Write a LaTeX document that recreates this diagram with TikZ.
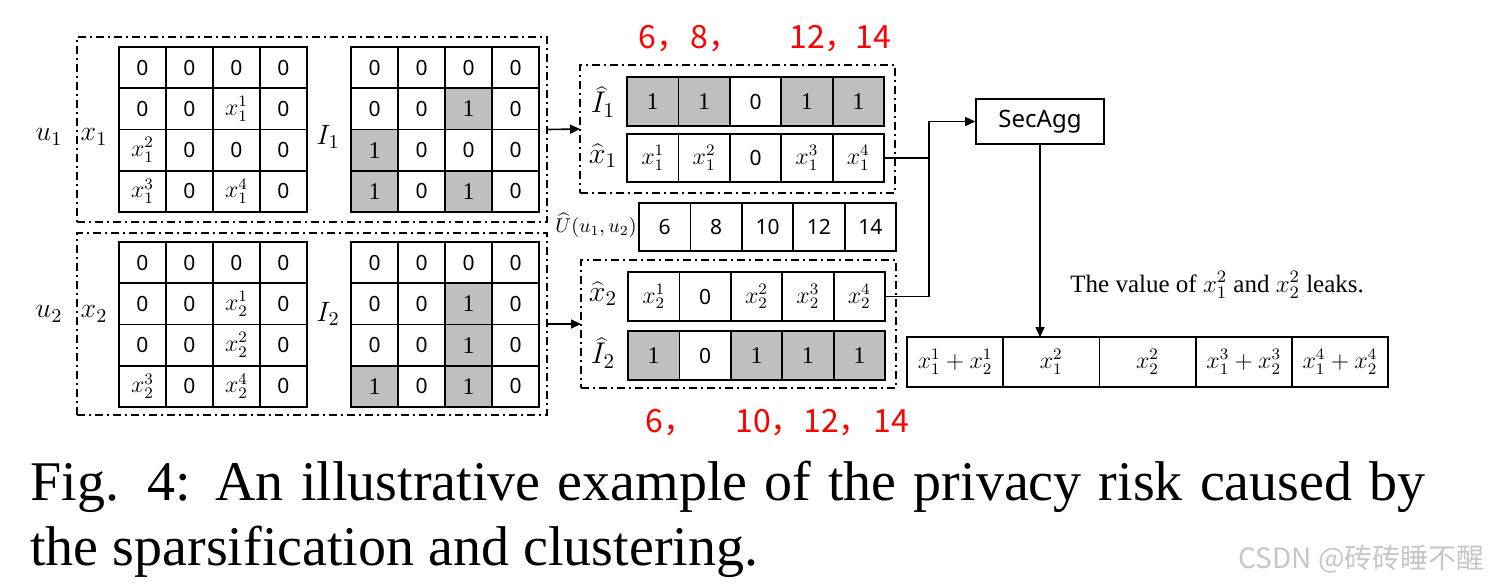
\RequirePackage{fix-cm}
\documentclass[tikz,border=0pt]{standalone}
\usepackage{fontspec}
\usetikzlibrary{arrows.meta,fit}
\newfontfamily\capfont{Liberation Serif}
\newfontfamily\sansf{Noto Sans}
\newfontfamily\cjk{Noto Sans CJK SC}
\newcommand\mx[1]{{\fontsize{12}{13}\selectfont$#1$}}
\newcommand\one{{\capfont\fontsize{12}{13}\selectfont 1}}
\tikzset{
  cell/.style={draw, line width=0.9pt, inner sep=0pt, outer sep=0pt, font=\sansf\fontsize{10.5}{12}\selectfont},
  dbox/.style={draw, line width=0.8pt, dash pattern=on 4pt off 2pt on 1pt off 2pt, inner sep=0pt, outer sep=0pt},
  arr/.style={line width=0.8pt, -{Triangle[length=5pt,width=4.5pt]}},
  conn/.style={line width=0.8pt},
  lab/.style={inner sep=0pt, font=\fontsize{14}{16}\selectfont},
  hlab/.style={inner sep=0pt, font=\fontsize{15}{17}\selectfont},
  rednum/.style={inner sep=0pt, anchor=base west, text=red, font=\cjk\fontsize{16}{18}\selectfont},
}
\newcommand\mymat[4]{%
  \foreach \val/\f [count=\i from 0] in {#4} {%
    \pgfmathtruncatemacro\cc{mod(\i,4)}%
    \pgfmathtruncatemacro\rr{floor(\i/4)}%
    \node[cell, minimum width=23.5pt, minimum height=20.625pt, fill=\f] (#1-\rr-\cc) at ({#2+23.5+47*\cc},{#3+20.625+41.25*\rr}) {\val};
  }}
\newcommand\myvec[6]{%
  \foreach \val/\f [count=\i from 0] in {#6} {%
    \node[cell, minimum width=0.5*#4pt, minimum height=0.5*#5pt, fill=\f] (#1-\i) at ({#2+#4*(\i+0.5)},{#3+#5/2}) {\val};
  }}
\begin{document}
\begin{tikzpicture}[x=0.5pt,y=-0.5pt]
\useasboundingbox (0,0) rectangle (1491,586);
% user boxes
\node[dbox, fit={(77,37) (547,222)}] (U1) {};
\node[dbox, fit={(77,233) (547,415)}] (U2) {};
% matrices
\mymat{X1}{119}{47}{0/white,0/white,0/white,0/white,
  0/white,0/white,\mx{x_1^1}/white,0/white,
  \mx{x_1^2}/white,0/white,0/white,0/white,
  \mx{x_1^3}/white,0/white,\mx{x_1^4}/white,0/white}
\mymat{I1}{351}{47}{0/white,0/white,0/white,0/white,
  0/white,0/white,\one/gray!50,0/white,
  \one/gray!50,0/white,0/white,0/white,
  \one/gray!50,0/white,\one/gray!50,0/white}
\mymat{X2}{119}{242}{0/white,0/white,0/white,0/white,
  0/white,0/white,\mx{x_2^1}/white,0/white,
  0/white,0/white,\mx{x_2^2}/white,0/white,
  \mx{x_2^3}/white,0/white,\mx{x_2^4}/white,0/white}
\mymat{I2}{351}{242}{0/white,0/white,0/white,0/white,
  0/white,0/white,\one/gray!50,0/white,
  0/white,0/white,\one/gray!50,0/white,
  \one/gray!50,0/white,\one/gray!50,0/white}
% labels
\node[lab] (lu1) at (49,137) {$u_1$};
\node[lab] (lx1) at (94,137) {$x_1$};
\node[lab] (lI1) at (328,137) {$I_1$};
\node[lab] (lu2) at (49,314) {$u_2$};
\node[lab] (lx2) at (94,314) {$x_2$};
\node[lab] (lI2) at (328,314) {$I_2$};
% hat boxes
\node[dbox, fit={(580,65) (895,193)}] (H1) {};
\node[dbox, fit={(581,260) (896,388)}] (H2) {};
\myvec{I1H}{627}{77}{51.4}{49}{\one/gray!50,\one/gray!50,0/white,\one/gray!50,\one/gray!50}
\myvec{X1H}{627}{134}{51.4}{48}{\mx{x_1^1}/white,\mx{x_1^2}/white,0/white,\mx{x_1^3}/white,\mx{x_1^4}/white}
\myvec{UV}{639}{203}{51.4}{48}{6/white,8/white,10/white,12/white,14/white}
\myvec{X2H}{628}{272}{51.4}{49}{\mx{x_2^1}/white,0/white,\mx{x_2^2}/white,\mx{x_2^3}/white,\mx{x_2^4}/white}
\myvec{I2H}{628}{331}{51.4}{49}{\one/gray!50,0/white,\one/gray!50,\one/gray!50,\one/gray!50}
\node[hlab] (lI1H) at (603,102) {$\widehat{I}_1$};
\node[hlab] (lX1H) at (603,156) {$\widehat{x}_1$};
\node[hlab] (lX2H) at (603,294) {$\widehat{x}_2$};
\node[hlab] (lI2H) at (603,353) {$\widehat{I}_2$};
\node[inner sep=0pt, font=\fontsize{10}{12}\selectfont] (lU) at (596,225) {$\widehat{U}(u_1,u_2)$};
% arrows into hat boxes
\draw[arr] (U1.east) -- (H1.west);
\draw[arr] (U2.east) -- (H2.west);
% SecAgg
\node[draw, line width=0.8pt, minimum width=64pt, minimum height=22.5pt, font=\sansf\fontsize{12}{14}\selectfont] (Sec) at (1040,121.5) {SecAgg};
\coordinate (J) at (929,158);
\draw[arr] (X1H-4.east) -- (J) |- (Sec.west);
\draw[conn] (X2H-4.east) -| (J);
% result
\myvec{R}{907}{337}{96.2}{50}{\mx{x_1^1+x_2^1}/white,\mx{x_1^2}/white,\mx{x_2^2}/white,\mx{x_1^3+x_2^3}/white,\mx{x_1^4+x_2^4}/white}
\draw[arr] (Sec.south) -- (Sec.south |- R-1.north);
\node[inner sep=0pt, anchor=base west, font=\capfont\fontsize{12.5}{15}\selectfont] (leak) at (1070,292) {The value of $x_1^2$ and $x_2^2$ leaks.};
% red numbers
\node[rednum] (r1) at (638,48) {6，};
\node[rednum] (r2) at (690,48) {8，};
\node[rednum] (r3) at (789,48) {12，};
\node[rednum] (r4) at (855,48) {14};
\node[rednum] (r5) at (645,432) {6，};
\node[rednum] (r6) at (735,432) {10，};
\node[rednum] (r7) at (803,432) {12，};
\node[rednum] (r8) at (873,432) {14};
% caption
\node[inner sep=0pt, anchor=base west, font=\capfont\fontsize{28}{32}\selectfont] (cap1) at (30,500) {\makebox[697.5pt][s]{Fig. 4: An illustrative example of the privacy risk caused by}};
\node[inner sep=0pt, anchor=base west, font=\capfont\fontsize{28}{32}\selectfont] (cap2) at (30,565) {the sparsification and clustering.};
% watermark
\node[inner sep=0pt, anchor=base west, text=gray!45, font=\cjk\fontsize{14}{16}\selectfont] (wm) at (1238,568) {CSDN @砖砖睡不醒};
\end{tikzpicture}
\end{document}
